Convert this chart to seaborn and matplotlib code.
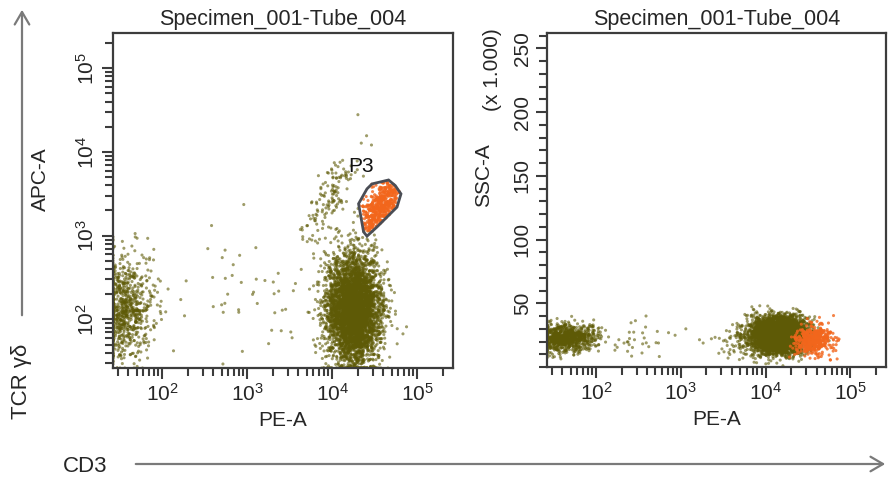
import numpy as np
import pandas as pd
import matplotlib
matplotlib.use("Agg")
import matplotlib.pyplot as plt
import seaborn as sns
from matplotlib.path import Path
from matplotlib.patches import Polygon, FancyArrowPatch
from matplotlib.ticker import FixedLocator, LogLocator, MultipleLocator, NullFormatter

# ---------------- text ----------------
panel_title = "Specimen_001-Tube_004"
x_label = "PE-A"
left_y_label = "APC-A"
right_y_label = "SSC-A"
right_y_note = "(x 1.000)"
outer_y_label = "TCR γδ"
outer_x_label = "CD3"
gate_name = "P3"

# ---------------- axes ----------------
log_lo, log_hi = 1.42, 5.42          # log10 range of PE-A / APC-A
ssc_lo, ssc_hi = 0, 262              # SSC-A (x 1.000)
log_major = [2, 3, 4, 5]
ssc_major = [50, 100, 150, 200, 250]

# ---------------- populations ----------------
# left panel: PE-A (log10) vs APC-A (log10)
left_pop = ["CD3-", "CD3+ gd-", "bright APC", "scatter", "P3"]
left_cx = [1.56, 4.25, 3.98, 3.00, 4.56]
left_cy = [2.12, 2.12, 3.45, 2.30, 3.33]
left_sx = [0.17, 0.16, 0.15, 0.50, 0.13]
left_sy = [0.32, 0.32, 0.28, 0.42, 0.19]
left_rho = [0.0, 0.0, 0.75, 0.0, 0.55]
left_n = [850, 4500, 140, 50, 450]

# right panel: PE-A (log10) vs SSC-A (thousands)
right_pop = ["CD3-", "CD3+ gd-", "scatter low", "scatter mid", "P3"]
right_cx = [1.62, 4.15, 2.45, 3.65, 4.56]
right_cy = [23, 25, 22, 19, 21]
right_sx = [0.19, 0.16, 0.22, 0.16, 0.11]
right_sy = [5.5, 7.0, 7.0, 6.0, 5.5]
right_n = [950, 4500, 35, 55, 450]

# P3 gate vertices (log10 PE-A, log10 APC-A)
gate_x = [4.408, 4.467, 4.662, 4.741, 4.808, 4.761, 4.526, 4.408, 4.368, 4.309]
gate_y = [3.559, 3.618, 3.665, 3.598, 3.499, 3.341, 3.104, 2.994, 3.045, 3.381]

OLIVE = "#5e5a06"
ORANGE = "#f2661c"
DARK = "#3c3c3c"

rng = np.random.default_rng(7)
gate_path = Path(np.column_stack([gate_x, gate_y]))


def make_pop(cx, cy, sx, sy, rho, n, inside=None):
    cov = [[sx * sx, rho * sx * sy], [rho * sx * sy, sy * sy]]
    pts = rng.multivariate_normal([cx, cy], cov, size=n * 3)
    if inside is not None:
        pts = pts[inside.contains_points(pts)]
    return pts[:n]


rows = []
for i, name in enumerate(left_pop):
    pts = make_pop(left_cx[i], left_cy[i], left_sx[i], left_sy[i], left_rho[i], left_n[i],
                   gate_path if name == "P3" else None)
    for x, y in pts:
        rows.append((name, x, y))
left_df = pd.DataFrame(rows, columns=["pop", "lx", "ly"])
left_df["lx"] = left_df["lx"].clip(log_lo, log_hi)
left_df["ly"] = left_df["ly"].clip(log_lo, log_hi)
left_df["PE-A"] = 10 ** left_df["lx"]
left_df["APC-A"] = 10 ** left_df["ly"]
left_df["gate"] = np.where(left_df["pop"] == "P3", "P3", "other")

rows = []
for i, name in enumerate(right_pop):
    pts = make_pop(right_cx[i], right_cy[i], right_sx[i], right_sy[i], 0.0, right_n[i])
    for x, y in pts:
        rows.append((name, x, y))
right_df = pd.DataFrame(rows, columns=["pop", "lx", "SSC-A"])
right_df["lx"] = right_df["lx"].clip(log_lo, log_hi)
right_df["SSC-A"] = right_df["SSC-A"].clip(ssc_lo + 1, ssc_hi)
right_df["PE-A"] = 10 ** right_df["lx"]
right_df["gate"] = np.where(right_df["pop"] == "P3", "P3", "other")

# ---------------- style ----------------
sns.set_style("ticks")
plt.rcParams["font.family"] = ["Liberation Sans", "DejaVu Sans"]
plt.rcParams["mathtext.default"] = "regular"

W, H = 889, 479
fig = plt.figure(figsize=(W / 100, H / 100), dpi=100)
axL = fig.add_axes([113 / W, 1 - 368 / H, 340 / W, 335 / H])
axR = fig.add_axes([547 / W, 1 - 367 / H, 339 / W, 334 / H])

pal = {"other": OLIVE, "P3": ORANGE}
for ax, df, ycol in [(axL, left_df, "APC-A"), (axR, right_df, "SSC-A")]:
    sns.scatterplot(data=df[df.gate == "other"], x="PE-A", y=ycol, hue="gate", palette=pal,
                    s=5, linewidth=0, alpha=0.6, legend=False, ax=ax)
    sns.scatterplot(data=df[df.gate == "P3"], x="PE-A", y=ycol, hue="gate", palette=pal,
                    s=5, linewidth=0, alpha=0.8, legend=False, ax=ax)

# gate polygon
axL.add_patch(Polygon(np.column_stack([10 ** np.array(gate_x), 10 ** np.array(gate_y)]),
                      closed=True, fill=False, edgecolor="#4a4d55", linewidth=2.0, zorder=5))
axL.text(10 ** 4.34, 10 ** 3.83, gate_name, fontsize=15, ha="center", va="center", color="#111")


def log_label(v):
    return r"$\mathregular{10^{%d}}$" % v


for ax in (axL, axR):
    ax.set_xscale("log")
    ax.set_xlim(10 ** log_lo, 10 ** log_hi)
    ax.xaxis.set_major_locator(FixedLocator([10 ** v for v in log_major]))
    ax.set_xticklabels([log_label(v) for v in log_major])
    ax.xaxis.set_minor_locator(LogLocator(base=10, subs=np.arange(2, 10)))
    ax.xaxis.set_minor_formatter(NullFormatter())
    ax.set_xlabel(x_label, fontsize=15, labelpad=4)
    ax.set_title(panel_title, fontsize=15.5, pad=6)
    for sp in ax.spines.values():
        sp.set_visible(True)
        sp.set_color(DARK)
        sp.set_linewidth(1.6)
    ax.tick_params(which="both", direction="out", color=DARK, width=1.5,
                   labelsize=15, top=False, right=False)
    ax.tick_params(which="major", length=8, pad=3)
    ax.tick_params(which="minor", length=6)

axL.set_yscale("log")
axL.set_ylim(10 ** log_lo, 10 ** log_hi)
axL.yaxis.set_major_locator(FixedLocator([10 ** v for v in log_major]))
axL.set_yticklabels([log_label(v) for v in log_major], rotation=90, va="center")
axL.yaxis.set_minor_locator(LogLocator(base=10, subs=np.arange(2, 10)))
axL.yaxis.set_minor_formatter(NullFormatter())
axL.set_ylabel(left_y_label, fontsize=15)
axL.yaxis.set_label_coords(-0.185, 0.565)

axR.set_ylim(ssc_lo, ssc_hi)
axR.yaxis.set_major_locator(FixedLocator(ssc_major))
axR.set_yticklabels([str(v) for v in ssc_major], rotation=90, va="center")
axR.yaxis.set_minor_locator(MultipleLocator(10))
axR.set_ylabel(right_y_label, fontsize=15)
axR.yaxis.set_label_coords(-0.16, 0.575)
axR.text(-0.16, 0.89, right_y_note, transform=axR.transAxes, rotation=90,
         ha="center", va="center", fontsize=15)

# outer arrows
arrow_col = "#7a7a7a"
fig.add_artist(FancyArrowPatch((22 / W, 1 - 318 / H), (22 / W, 1 - 7 / H), transform=fig.transFigure,
                               arrowstyle="->,head_length=0.6,head_width=0.35", mutation_scale=15,
                               color=arrow_col, linewidth=1.6))
fig.add_artist(FancyArrowPatch((133 / W, 1 - 464 / H), (888 / W, 1 - 464 / H), transform=fig.transFigure,
                               arrowstyle="->,head_length=0.6,head_width=0.35", mutation_scale=15,
                               color=arrow_col, linewidth=1.6))
fig.text(22 / W, 1 - 381 / H, outer_y_label, rotation=90, ha="center", va="center", fontsize=16)
fig.text(85 / W, 1 - 466 / H, outer_x_label, ha="center", va="center", fontsize=16)

fig.savefig("out.png", dpi=100)
